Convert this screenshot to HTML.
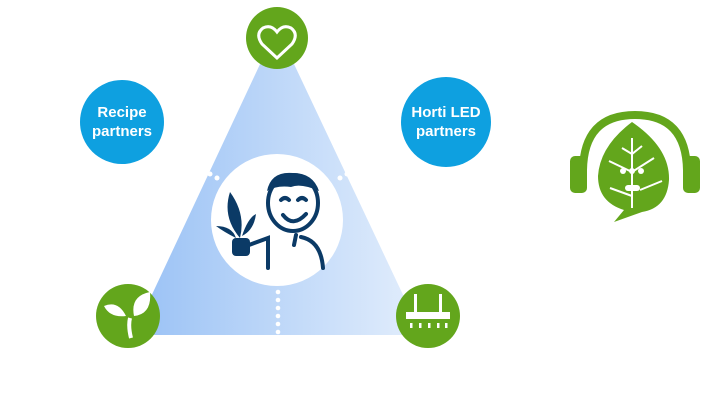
<!DOCTYPE html>
<html><head><meta charset="utf-8"><style>
body{margin:0;width:720px;height:405px;background:#fff;overflow:hidden;font-family:"Liberation Sans",sans-serif}
</style></head><body>
<svg width="720" height="405" viewBox="0 0 720 405" xmlns="http://www.w3.org/2000/svg">
<defs><linearGradient id="g" x1="0" x2="1" y1="0" y2="0">
<stop offset="0" stop-color="#99c1f5"/><stop offset="1" stop-color="#e3eefc"/></linearGradient></defs>
<polygon points="277,28 133,335 422,335" fill="url(#g)"/>
<g fill="#fff">
<circle cx="203" cy="170" r="2.5"/><circle cx="210" cy="174" r="2.5"/><circle cx="217" cy="178" r="2.5"/>
<circle cx="354" cy="170" r="2.5"/><circle cx="347" cy="174" r="2.5"/><circle cx="340" cy="178" r="2.5"/>
<circle cx="278" cy="292" r="2.3"/><circle cx="278" cy="300" r="2.3"/><circle cx="278" cy="308" r="2.3"/><circle cx="278" cy="316" r="2.3"/><circle cx="278" cy="324" r="2.3"/><circle cx="278" cy="332" r="2.3"/>
</g>
<circle cx="277" cy="220" r="66" fill="#fff"/>
<g fill="none" stroke="#0b3a66" stroke-width="4" stroke-linecap="round">
<ellipse cx="293" cy="203" rx="25" ry="28"/>
<path d="M283 215 Q293 228 306 214"/>
<path d="M281 200 q4 -4 8 0 M298 200 q4 -4 8 0"/>
<path d="M249 245 L268 238 L268 268"/>
<path d="M296 235 L294 245 M301 237 Q321 241 323 268"/>
</g>
<path d="M267 191 Q271 171 293 173 Q313 173 319 191 Q301 183 291 187 Q277 185 267 191Z" fill="#0b3a66"/>
<rect x="232" y="238" width="18" height="18" rx="4" fill="#0b3a66"/>
<path d="M240 238 Q222 217 230 192 Q246 214 240 238Z M242 236 Q248 218 256 214 Q254 230 242 236Z M236 238 Q224 232 216 226 Q232 226 236 238Z" fill="#0b3a66"/>
<circle cx="277" cy="38" r="31" fill="#63a61c"/>
<path d="M277 58 L262 44 Q255 34 263 28 Q271 24 277 32 Q283 24 291 28 Q299 34 292 44Z" fill="none" stroke="#fff" stroke-width="3"/>
<circle cx="128" cy="316" r="32" fill="#63a61c"/>
<path d="M134 316 Q130 296 150 292 Q152 314 134 316Z M126 316 Q110 318 104 306 Q118 300 126 316Z" fill="#fff"/>
<path d="M131 338 Q128 326 130 318" stroke="#fff" stroke-width="4" fill="none"/>
<circle cx="428" cy="316" r="32" fill="#63a61c"/>
<g fill="#fff"><rect x="414" y="294" width="3" height="18"/><rect x="439" y="294" width="3" height="18"/><rect x="406" y="312" width="44" height="7"/>
<rect x="410" y="323" width="2.5" height="5"/><rect x="419" y="323" width="2.5" height="5"/><rect x="428" y="323" width="2.5" height="5"/><rect x="437" y="323" width="2.5" height="5"/><rect x="445" y="323" width="2.5" height="5"/></g>
<circle cx="122" cy="122" r="42" fill="#0ea0e0"/>
<text x="122" y="117" text-anchor="middle" fill="#fff" font-weight="bold" font-size="15">Recipe</text>
<text x="122" y="136" text-anchor="middle" fill="#fff" font-weight="bold" font-size="15">partners</text>
<circle cx="446" cy="122" r="45" fill="#0ea0e0"/>
<text x="446" y="117" text-anchor="middle" fill="#fff" font-weight="bold" font-size="15">Horti LED</text>
<text x="446" y="136" text-anchor="middle" fill="#fff" font-weight="bold" font-size="15">partners</text>
<path d="M583 170 Q584 115 635 115 Q686 115 687 170" fill="none" stroke="#63a61c" stroke-width="8"/>
<rect x="570" y="156" width="17" height="37" rx="5" fill="#63a61c"/>
<rect x="683" y="156" width="17" height="37" rx="5" fill="#63a61c"/>
<path d="M632 122 Q670 148 669 180 Q667 208 642 212 L614 222 L624 210 Q598 202 598 176 Q600 146 632 122Z" fill="#63a61c"/>
<g stroke="#fff" stroke-width="2" fill="none"><path d="M632 138 L632 208 M622 148 L632 154 L642 146 M609 161 L632 172 L654 158 M610 188 L632 196 M640 190 L662 181"/></g>
<g fill="#fff"><circle cx="623" cy="171" r="3"/><circle cx="632" cy="171" r="3"/><circle cx="641" cy="171" r="3"/><rect x="625" y="185" width="15" height="6" rx="3"/></g>
</svg>
</body></html>
